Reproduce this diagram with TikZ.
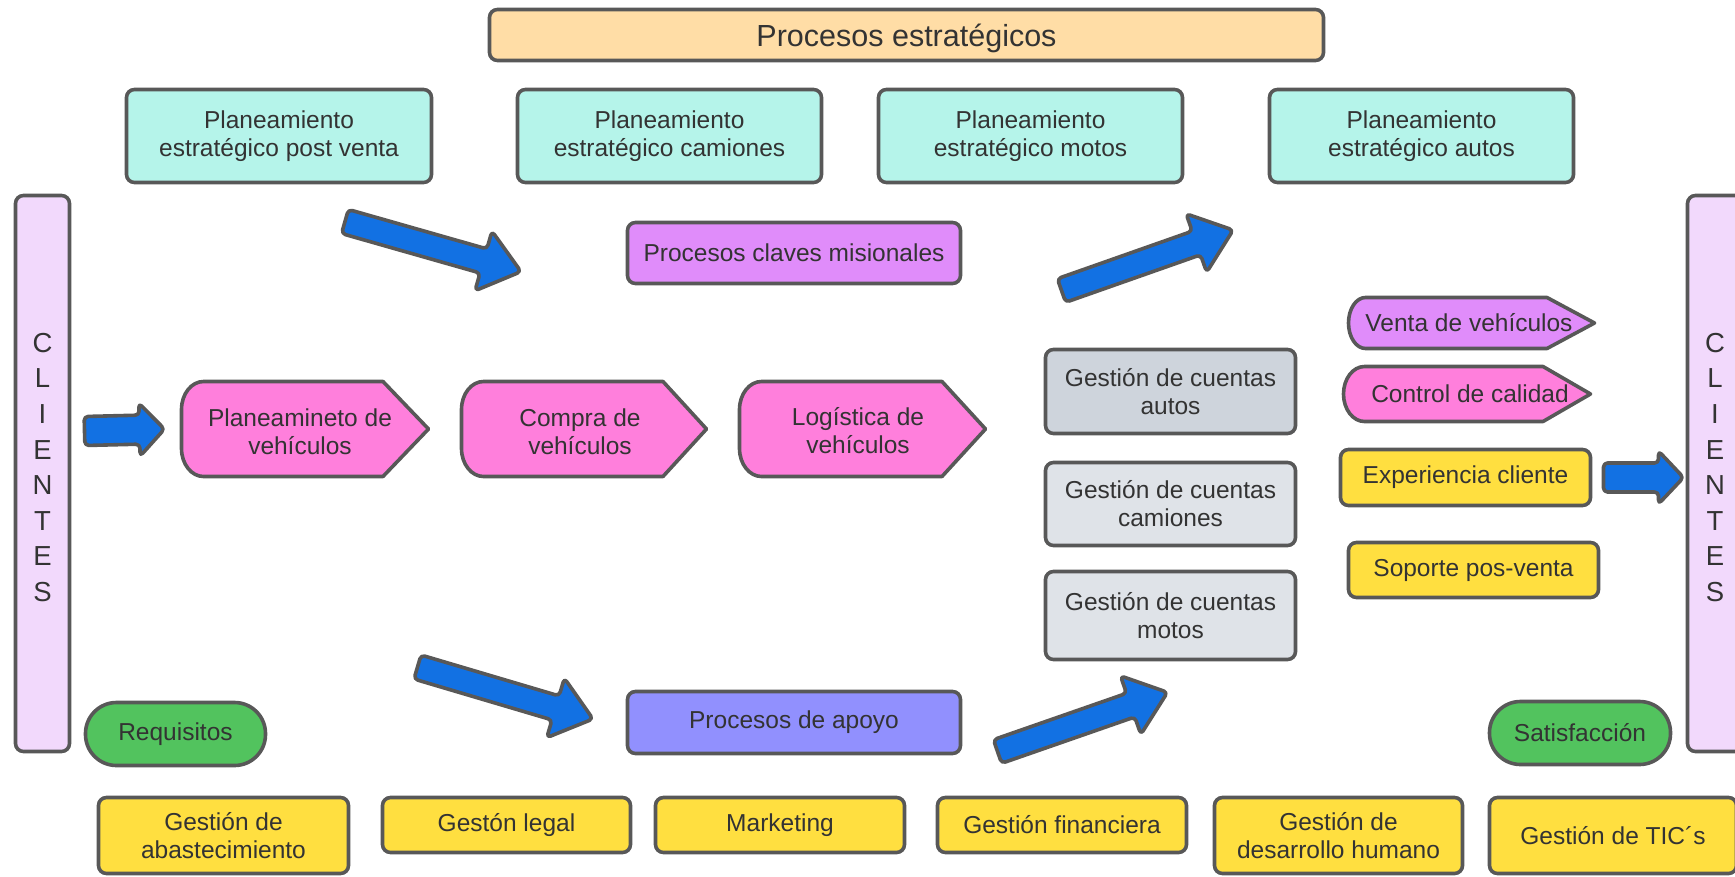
\documentclass[tikz,border=0pt]{standalone}
\usepackage{fontspec}
\setmainfont{Liberation Sans}

\newcommand\bodyfont{\fontsize{24.5}{28}\selectfont}
\newcommand\titlefont{\fontsize{30.5}{36}\selectfont}
\newcommand\sidefont{\fontsize{27.5}{35.6}\selectfont}

\definecolor{cEdge}{HTML}{585858}
\definecolor{cInk}{HTML}{333333}
\definecolor{cPeach}{HTML}{FFDDA6}
\definecolor{cAqua}{HTML}{B5F4EA}
\definecolor{cViolet}{HTML}{E08CFA}
\definecolor{cPink}{HTML}{FF7FDC}
\definecolor{cGrayA}{HTML}{CED4DC}
\definecolor{cGrayB}{HTML}{DFE3E8}
\definecolor{cYellow}{HTML}{FFDF40}
\definecolor{cGreen}{HTML}{52C35E}
\definecolor{cPeri}{HTML}{9190FE}
\definecolor{cLav}{HTML}{F2D9FC}
\definecolor{cBlue}{HTML}{1271E3}

% pentagon with a curved left side:
% #1 left, #2 shoulder, #3 tip, #4 top, #5 bottom, #6 corner x-radius, #7 corner y-radius, #8 fill
\newcommand\pentashape[8]{%
  \draw[outline, line join=round, fill=#8]
    ({#1+#6},#4) -- (#2,#4) -- (#3,{(#4+#5)/2}) -- (#2,#5) -- ({#1+#6},#5)
    .. controls ({#1+0.448*#6},#5) and (#1,{#5-0.448*#7}) .. (#1,{#5-#7})
    -- (#1,{#4+#7})
    .. controls (#1,{#4+0.448*#7}) and ({#1+0.448*#6},#4) .. ({#1+#6},#4) -- cycle;
}

\begin{document}
\begin{tikzpicture}[x=1pt,y=-1pt,
  outline/.style={draw=cEdge, line width=3.6pt},
  box/.style={outline, rounded corners=8pt, inner sep=0pt, text=cInk, align=center, font=\bodyfont},
  pill/.style={box, rounded corners=31pt},
  txt/.style={text=cInk, align=center, font=\bodyfont, inner sep=0pt},
  arrowline/.style={outline, fill=cBlue, rounded corners=4pt, line join=round},
  pics/bigarrow/.style={code={
    \draw[arrowline] (0,-12.5) -- ({#1-39},-12.5) -- ({#1-39},-31) -- (#1,0)
      -- ({#1-39},31) -- ({#1-39},12.5) -- (0,12.5) -- cycle;}},
  pics/smallarrow/.style={code={
    \draw[arrowline] (0,-14.5) -- ({#1-25},-14.5) -- ({#1-25},-26.5) -- (#1,0)
      -- ({#1-25},26.5) -- ({#1-25},14.5) -- (0,14.5) -- cycle;}},
]
\fill[white] (0,0) rectangle (1735,876);
\clip (0,0) rectangle (1735,876);

% strategic processes
\node[box, fill=cPeach, font=\titlefont, text depth=0pt, minimum width=834, minimum height=51] (strat) at (906.5,35) {Procesos estratégicos};
\node[box, fill=cAqua, minimum width=305, minimum height=93] (pvPost) at (279,136) {Planeamiento\\estratégico post venta};
\node[box, fill=cAqua, minimum width=304, minimum height=93] (pvCam) at (669.5,136) {Planeamiento\\estratégico camiones};
\node[box, fill=cAqua, minimum width=304, minimum height=93] (pvMot) at (1030.5,136) {Planeamiento\\estratégico motos};
\node[box, fill=cAqua, minimum width=304, minimum height=93] (pvAut) at (1421.5,136) {Planeamiento\\estratégico autos};

% key processes
\node[box, fill=cViolet, minimum width=333, minimum height=61] (mision) at (794,253) {Procesos claves misionales};

% client bars
\node[box, fill=cLav, minimum width=54, minimum height=556] (cliL) at (42.5,473.5) {};
\node[txt, font=\sidefont] (cliLtxt) at (42.5,467.5) {C\\L\\I\\E\\N\\T\\E\\S};
\node[box, fill=cLav, minimum width=55, minimum height=556] (cliR) at (1715,473.5) {};
\node[txt, font=\sidefont] (cliRtxt) at (1715,467.5) {C\\L\\I\\E\\N\\T\\E\\S};

% value chain
\pentashape{181.5}{383}{428.5}{381.5}{476.5}{22}{28}{cPink}
\node[txt] (planV) at (300,432) {Planeamineto de\\vehículos};
\pentashape{461.5}{663}{706.5}{381.5}{476.5}{22}{28}{cPink}
\node[txt] (compV) at (580,432) {Compra de\\vehículos};
\pentashape{739.5}{942}{985.5}{381.5}{476.5}{22}{28}{cPink}
\node[txt] (logV) at (858,431) {Logística de\\vehículos};

% accounts
\node[box, fill=cGrayA, minimum width=250, minimum height=84] (gcAut) at (1170.5,391.5) {Gestión de cuentas\\autos};
\node[box, fill=cGrayB, minimum width=250, minimum height=83] (gcCam) at (1170.5,504) {Gestión de cuentas\\camiones};
\node[box, fill=cGrayB, minimum width=250, minimum height=88] (gcMot) at (1170.5,615.5) {Gestión de cuentas\\motos};

% sales and after-sales
\pentashape{1348.5}{1547}{1594.5}{297.5}{348.5}{17}{25.5}{cViolet}
\node[txt] (venta) at (1469,323) {Venta de vehículos};
\pentashape{1343.5}{1543}{1590.5}{366.5}{421.5}{21}{27.5}{cPink}
\node[txt] (calidad) at (1470,394) {Control de calidad};
\node[box, fill=cYellow, minimum width=250, minimum height=56] (expCli) at (1465.5,477.5) {Experiencia cliente};
\node[box, fill=cYellow, minimum width=250, minimum height=55] (soporte) at (1473.5,570) {Soporte pos-venta};

% requirements / satisfaction
\node[pill, fill=cGreen, minimum width=180, minimum height=63] (req) at (175.5,734) {Requisitos};
\node[pill, fill=cGreen, minimum width=181, minimum height=63] (satis) at (1580,733) {Satisfacción};

% support processes
\node[box, fill=cPeri, minimum width=333, minimum height=62] (apoyo) at (794,722.5) {Procesos de apoyo};
\node[box, fill=cYellow, minimum width=250, minimum height=76] (abast) at (223.5,835.5) {Gestión de\\abastecimiento};
\node[box, fill=cYellow, minimum width=248, minimum height=55] (legal) at (506.5,825) {Gestón legal};
\node[box, fill=cYellow, minimum width=249, minimum height=55] (mkt) at (780,825) {Marketing};
\node[box, fill=cYellow, minimum width=249, minimum height=55] (fin) at (1062,825) {Gestión financiera};
\node[box, fill=cYellow, minimum width=248, minimum height=76] (dh) at (1338.5,835.5) {Gestión de\\desarrollo humano};
\node[box, fill=cYellow, minimum width=247, minimum height=76] (tic) at (1613,835.5) {Gestión de TIC´s};

% block arrows
\pic[rotate=-15.9] (arrA) at (345,221.5) {bigarrow=183};
\pic[rotate=19.4] (arrB) at (1061.5,290.5) {bigarrow=182};
\pic[rotate=-16.5] (arrC) at (417.5,667) {bigarrow=183};
\pic[rotate=19.2] (arrD) at (997.5,751.5) {bigarrow=180};
\pic[rotate=1.4] (arrE) at (84.5,431) {smallarrow=80};
\pic (arrF) at (1603.5,477.5) {smallarrow=80};
\end{tikzpicture}
\end{document}
